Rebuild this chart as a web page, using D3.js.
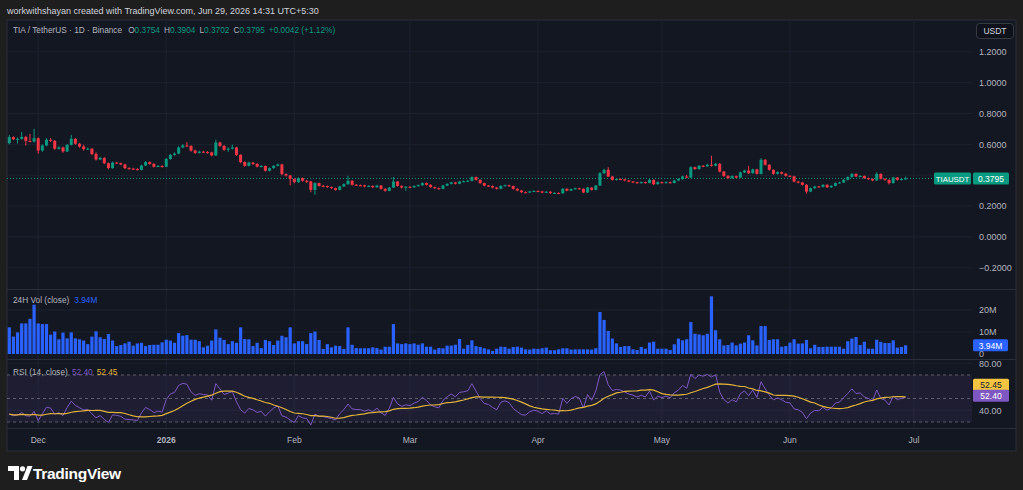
<!DOCTYPE html>
<meta charset="utf-8" />
<script src="https://d3js.org/d3.v7.min.js"></script>
<style>
	body { margin: 0; background: #1e1e1e; overflow: hidden; }
	text { font-family: "Liberation Sans", Arial, sans-serif; }
</style>
<div id="chart"></div>
<script>
	// daily candles, TIA/USDT, first day 2025-11-24
	const startDate = "2025-11-24";
	const firstOpen = 0.608;
	const closes = [0.647,0.633,0.636,0.648,0.622,0.618,0.640,0.560,0.593,0.630,
		0.623,0.571,0.580,0.554,0.597,0.636,0.604,0.586,0.569,0.572,
		0.537,0.502,0.512,0.478,0.446,0.482,0.478,0.470,0.446,0.443,
		0.440,0.435,0.463,0.485,0.473,0.455,0.460,0.455,0.505,0.532,
		0.540,0.580,0.593,0.590,0.560,0.545,0.553,0.550,0.548,0.528,
		0.612,0.590,0.565,0.572,0.580,0.532,0.485,0.461,0.482,0.473,
		0.456,0.460,0.429,0.446,0.461,0.470,0.407,0.398,0.376,0.355,
		0.381,0.364,0.360,0.305,0.349,0.331,0.330,0.323,0.316,0.305,
		0.327,0.342,0.364,0.338,0.335,0.334,0.327,0.331,0.322,0.333,
		0.312,0.299,0.320,0.359,0.331,0.320,0.325,0.322,0.330,0.335,
		0.349,0.338,0.323,0.316,0.312,0.333,0.344,0.353,0.345,0.359,
		0.361,0.364,0.388,0.370,0.349,0.333,0.330,0.320,0.312,0.331,
		0.335,0.330,0.312,0.301,0.290,0.288,0.295,0.298,0.295,0.288,
		0.293,0.284,0.285,0.283,0.312,0.300,0.310,0.315,0.312,0.288,
		0.320,0.305,0.333,0.413,0.435,0.392,0.370,0.375,0.373,0.366,
		0.359,0.355,0.349,0.355,0.350,0.370,0.342,0.355,0.350,0.355,
		0.350,0.366,0.375,0.392,0.385,0.452,0.440,0.461,0.458,0.468,
		0.462,0.474,0.424,0.396,0.381,0.394,0.385,0.418,0.430,0.413,
		0.438,0.409,0.500,0.468,0.435,0.409,0.420,0.410,0.396,0.393,
		0.359,0.353,0.338,0.294,0.316,0.327,0.325,0.338,0.322,0.331,
		0.349,0.353,0.370,0.388,0.409,0.392,0.395,0.381,0.375,0.366,
		0.409,0.377,0.370,0.349,0.385,0.370,0.3754,0.3795];
	const highs = [0.660,0.652,0.645,0.680,0.655,0.668,0.700,0.645,0.600,0.640,
		0.640,0.628,0.588,0.585,0.602,0.662,0.640,0.610,0.598,0.580,
		0.576,0.548,0.520,0.518,0.482,0.488,0.486,0.482,0.474,0.452,
		0.448,0.446,0.468,0.492,0.490,0.478,0.466,0.465,0.512,0.538,
		0.548,0.588,0.602,0.615,0.594,0.566,0.560,0.558,0.556,0.552,
		0.630,0.618,0.595,0.580,0.598,0.584,0.536,0.490,0.488,0.486,
		0.478,0.466,0.463,0.450,0.465,0.476,0.474,0.412,0.402,0.380,
		0.386,0.385,0.370,0.364,0.354,0.352,0.338,0.334,0.327,0.320,
		0.331,0.347,0.396,0.368,0.343,0.340,0.338,0.336,0.334,0.338,
		0.336,0.315,0.324,0.388,0.362,0.334,0.330,0.330,0.335,0.340,
		0.354,0.352,0.341,0.327,0.320,0.337,0.348,0.358,0.357,0.363,
		0.366,0.369,0.393,0.392,0.373,0.352,0.337,0.334,0.324,0.335,
		0.340,0.339,0.333,0.315,0.304,0.294,0.299,0.303,0.302,0.299,
		0.297,0.296,0.290,0.289,0.316,0.315,0.314,0.320,0.319,0.315,
		0.324,0.323,0.337,0.420,0.442,0.452,0.396,0.380,0.379,0.377,
		0.370,0.363,0.358,0.360,0.359,0.376,0.373,0.360,0.359,0.360,
		0.359,0.370,0.380,0.397,0.402,0.458,0.456,0.466,0.466,0.474,
		0.526,0.480,0.478,0.428,0.400,0.399,0.398,0.423,0.436,0.461,
		0.443,0.442,0.510,0.504,0.472,0.438,0.425,0.424,0.414,0.400,
		0.397,0.363,0.357,0.342,0.320,0.332,0.332,0.342,0.341,0.335,
		0.353,0.358,0.375,0.393,0.414,0.412,0.400,0.399,0.385,0.379,
		0.418,0.412,0.381,0.373,0.390,0.388,0.380,0.3904];
	const lows = [0.600,0.628,0.605,0.630,0.593,0.612,0.612,0.540,0.552,0.588,
		0.615,0.565,0.566,0.545,0.550,0.592,0.598,0.578,0.560,0.563,
		0.530,0.495,0.498,0.472,0.438,0.442,0.472,0.465,0.440,0.436,
		0.433,0.430,0.432,0.460,0.468,0.450,0.452,0.448,0.452,0.500,
		0.528,0.536,0.575,0.582,0.552,0.538,0.540,0.544,0.540,0.522,
		0.525,0.584,0.558,0.552,0.566,0.526,0.478,0.455,0.457,0.466,
		0.450,0.450,0.424,0.425,0.442,0.457,0.400,0.392,0.335,0.348,
		0.350,0.358,0.350,0.290,0.273,0.326,0.325,0.318,0.311,0.300,
		0.302,0.324,0.338,0.333,0.330,0.329,0.322,0.323,0.317,0.319,
		0.307,0.293,0.296,0.317,0.326,0.314,0.299,0.316,0.318,0.326,
		0.332,0.333,0.318,0.311,0.306,0.309,0.330,0.340,0.340,0.342,
		0.354,0.356,0.360,0.365,0.344,0.328,0.325,0.315,0.307,0.309,
		0.327,0.325,0.307,0.296,0.285,0.283,0.285,0.291,0.290,0.283,
		0.284,0.279,0.280,0.277,0.280,0.296,0.297,0.306,0.307,0.284,
		0.285,0.300,0.302,0.330,0.408,0.388,0.365,0.366,0.368,0.361,
		0.354,0.350,0.344,0.345,0.345,0.347,0.337,0.339,0.345,0.346,
		0.345,0.347,0.362,0.371,0.380,0.382,0.435,0.436,0.452,0.454,
		0.456,0.458,0.418,0.390,0.375,0.377,0.380,0.382,0.414,0.408,
		0.410,0.404,0.405,0.462,0.430,0.403,0.405,0.405,0.391,0.388,
		0.354,0.347,0.333,0.280,0.290,0.312,0.320,0.321,0.317,0.318,
		0.328,0.345,0.350,0.366,0.384,0.388,0.387,0.376,0.370,0.361,
		0.363,0.372,0.364,0.340,0.346,0.365,0.366,0.3702];
	// 24h volume, millions
	const volumes = [12.1,7.9,9.8,13.9,13.9,16.0,22.4,13.9,13.6,13.6,
		8.8,10.2,6.7,9.7,7.1,9.8,7.1,6.7,6.1,4.5,
		7.9,10.3,7.6,6.8,9.1,6.1,3.6,4.1,4.8,5.6,
		3.8,4.8,5.1,3.6,4.1,4.2,4.2,5.3,6.5,6.1,
		5.1,9.5,8.3,8.6,6.5,6.5,5.8,3.0,3.8,6.1,
		11.2,7.4,6.4,4.5,5.8,5.1,12.1,6.8,6.7,3.6,
		5.1,2.7,6.4,5.8,4.1,6.1,8.3,7.6,12.1,4.8,
		5.8,5.8,4.5,9.5,10.2,6.4,2.3,4.5,3.0,3.8,
		3.6,2.3,12.1,4.2,2.7,2.6,2.6,2.6,3.0,2.7,
		2.0,3.3,3.3,13.6,4.8,4.5,4.8,4.5,4.8,4.2,
		4.8,3.3,3.3,2.0,2.7,2.6,3.8,3.8,4.2,6.8,
		2.4,4.1,6.2,3.6,3.2,2.6,2.1,1.4,2.4,3.3,
		3.2,2.4,3.2,3.3,2.9,2.1,2.0,2.4,2.3,2.6,
		2.9,1.7,1.7,2.1,2.6,2.6,2.0,2.1,2.1,2.1,
		2.1,2.0,2.6,19.1,15.5,10.5,7.0,4.8,3.2,3.6,
		3.6,2.1,1.8,3.2,2.4,5.2,5.6,2.4,2.4,2.4,
		1.8,4.4,7.0,6.2,6.7,14.5,9.2,8.9,8.5,9.2,
		26.2,10.8,6.7,3.9,4.1,5.2,3.9,4.7,5.2,8.5,
		6.2,3.9,12.7,12.7,6.4,6.7,6.7,3.3,3.6,5.2,
		6.7,4.7,4.8,6.4,2.6,4.2,3.2,3.2,3.3,3.3,
		3.3,3.3,2.4,5.8,7.0,7.7,4.1,5.6,2.4,2.4,
		6.5,5.5,5.0,5.0,6.2,2.9,3.2,3.94];

	const priceTicks = [-0.2, 0, 0.2, 0.4, 0.6, 0.8, 1.0, 1.2];
	const volTicks = [0, 10, 20];
	const rsiTicks = [40, 80];
	const rsiLevels = [30, 50, 70];
	// Wilder averages carried in from the days before the window
	const rsiSeedGain = 0.011, rsiSeedLoss = 0.019;
	const lastPrice = 0.3795, lastVolume = 3.94, rsiLast = 52.40, rsiMaLast = 52.45;
	const ohlcLabels = [["O", "0.3754"], ["H", "0.3904"], ["L", "0.3702"], ["C", "0.3795"]];
	const changeLabel = "+0.0042 (+1.12%)";

	const W = 1023, H = 490;
	const left = 7, plotRight = 972, axisX = 979;
	const up = "#089981", down = "#f23645", gridColor = "#1d2230", axisText = "#b2b5be";
	const maColor = "#e2b53a";

	const svg = d3.select("#chart").append("svg").attr("width", W).attr("height", H);
	svg.append("rect").attr("width", W).attr("height", H).attr("fill", "#1e1e1e");
	svg.append("rect").attr("x", left).attr("y", 20).attr("width", 1009).attr("height", 431)
		.attr("fill", "#131722").attr("stroke", "#2a2e39");

	const t0 = d3.utcParse("%Y-%m-%d")(startDate);
	const dates = closes.map((c, i) => d3.utcDay.offset(t0, i));
	const opens = closes.map((c, i) => (i === 0 ? firstOpen : closes[i - 1]));
	const n = closes.length;

	const x = d3.scaleUtc().domain([dates[0], dates[n - 1]]).range([9.3, 905.6]);
	const y = d3.scaleLinear().domain([-0.2, 1.2]).range([267.8, 51.8]);
	const vy = d3.scaleLinear().domain([0, 20]).range([354, 310]);
	const ry = d3.scaleLinear().domain([30, 70]).range([422, 375]);

	// RSI(14) + 14-day SMA of it
	const rsi = [];
	let avgG = rsiSeedGain, avgL = rsiSeedLoss;
	closes.forEach((c, i) => {
		if (i > 0) {
			const ch = c - closes[i - 1];
			avgG = (avgG * 13 + Math.max(ch, 0)) / 14;
			avgL = (avgL * 13 + Math.max(-ch, 0)) / 14;
		}
		rsi.push(100 - 100 / (1 + avgG / avgL));
	});
	const rsiMA = rsi.map((v, i) => d3.mean(rsi.slice(Math.max(0, i - 13), i + 1)));

	// month grid
	const months = d3.utcMonth.range(d3.utcMonth.ceil(dates[0]), d3.utcDay.offset(dates[n - 1], 3));
	svg.append("g").selectAll("line").data(months).join("line")
		.attr("x1", d => x(d)).attr("x2", d => x(d))
		.attr("y1", 20).attr("y2", 428)
		.attr("stroke", gridColor);

	const hGrid = (vals, scale) =>
		svg.append("g").selectAll("line").data(vals).join("line")
			.attr("x1", left).attr("x2", plotRight)
			.attr("y1", d => scale(d)).attr("y2", d => scale(d))
			.attr("stroke", gridColor);
	hGrid(priceTicks, y);
	hGrid(volTicks.filter(d => d > 0), vy);
	hGrid(rsiTicks, ry);

	// pane separators
	svg.append("g").selectAll("line").data([289.5, 359.5, 428.5]).join("line")
		.attr("x1", left).attr("x2", 1016).attr("y1", d => d).attr("y2", d => d)
		.attr("stroke", "#2a2e39");

	// current price line
	svg.append("line").attr("x1", left).attr("x2", plotRight)
		.attr("y1", y(lastPrice)).attr("y2", y(lastPrice))
		.attr("stroke", up).attr("stroke-dasharray", "1,2");

	// candles
	const idx = d3.range(n);
	const col = i => (closes[i] >= opens[i] ? up : down);
	svg.append("g").selectAll("line").data(idx).join("line")
		.attr("x1", i => x(dates[i])).attr("x2", i => x(dates[i]))
		.attr("y1", i => y(highs[i])).attr("y2", i => y(lows[i]))
		.attr("stroke", col).attr("stroke-width", 1);
	svg.append("g").selectAll("rect").data(idx).join("rect")
		.attr("x", i => x(dates[i]) - 1.5)
		.attr("width", 3)
		.attr("y", i => y(Math.max(opens[i], closes[i])))
		.attr("height", i => Math.max(1, Math.abs(y(opens[i]) - y(closes[i]))))
		.attr("fill", col);

	// volume
	svg.append("g").selectAll("rect").data(idx).join("rect")
		.attr("x", i => x(dates[i]) - 1.6)
		.attr("width", 3.2)
		.attr("y", i => vy(volumes[i]))
		.attr("height", i => vy(0) - vy(volumes[i]))
		.attr("fill", "#2962ff");

	// RSI pane
	svg.append("rect").attr("x", left).attr("width", plotRight - left)
		.attr("y", ry(70)).attr("height", ry(30) - ry(70))
		.attr("fill", "rgba(126,87,194,0.1)");
	svg.append("g").selectAll("line").data(rsiLevels).join("line")
		.attr("x1", left).attr("x2", plotRight)
		.attr("y1", d => ry(d)).attr("y2", d => ry(d))
		.attr("stroke", "rgba(120,123,134,0.7)").attr("stroke-dasharray", "3,3");
	const rsiLine = d3.line().x((d, i) => x(dates[i])).y(d => ry(d));
	svg.append("path").datum(rsi).attr("d", rsiLine)
		.attr("fill", "none").attr("stroke", "#7e57c2").attr("stroke-width", 1);
	svg.append("path").datum(rsiMA).attr("d", rsiLine)
		.attr("fill", "none").attr("stroke", maColor).attr("stroke-width", 1.2);

	// right axes (the tick hidden behind the last-price tag is not drawn)
	const styleAxis = g => {
		g.select(".domain").remove();
		g.selectAll("text").attr("fill", axisText).style("font-size", "9px");
	};
	const visiblePriceTicks = priceTicks.filter(d => Math.abs(y(d) - y(lastPrice)) > 8);
	svg.append("g").attr("transform", `translate(${axisX},0)`)
		.call(d3.axisRight(y).tickValues(visiblePriceTicks).tickFormat(d3.format(".4f")).tickSize(0).tickPadding(0))
		.call(styleAxis);
	svg.append("g").attr("transform", `translate(${axisX},0)`)
		.call(d3.axisRight(vy).tickValues(volTicks).tickFormat(d => (d === 0 ? "0" : d + "M")).tickSize(0).tickPadding(0))
		.call(styleAxis);
	svg.append("g").attr("transform", `translate(${axisX},0)`)
		.call(d3.axisRight(ry).tickValues(rsiTicks).tickFormat(d3.format(".2f")).tickSize(0).tickPadding(0))
		.call(styleAxis);

	const tag = (x0, w, cy, fill, label, color, size) => {
		svg.append("rect").attr("x", x0).attr("y", cy - 6).attr("width", w).attr("height", 12)
			.attr("rx", 1.5).attr("fill", fill);
		svg.append("text").attr("x", x0 + w / 2).attr("y", cy + 3.2)
			.attr("text-anchor", "middle").attr("fill", color)
			.style("font-size", (size || 8.5) + "px").text(label);
	};
	tag(934, 37, y(lastPrice), up, "TIAUSDT", "#ffffff", 7.8);
	tag(973, 36, y(lastPrice), up, d3.format(".4f")(lastPrice), "#ffffff");
	tag(973, 35, vy(lastVolume), "#2962ff", lastVolume.toFixed(2) + "M", "#ffffff");
	tag(973, 36, ry(rsiLast) - 11, "#f5c542", rsiMaLast.toFixed(2), "#131722");
	tag(973, 36, ry(rsiLast), "#7e57c2", rsiLast.toFixed(2), "#ffffff");

	// currency button
	svg.append("rect").attr("x", 976.5).attr("y", 23.5).attr("width", 37).attr("height", 15)
		.attr("rx", 3).attr("fill", "#0f121a").attr("stroke", "#363a45");
	svg.append("text").attr("x", 995).attr("y", 34).attr("text-anchor", "middle")
		.attr("fill", "#d1d4dc").style("font-size", "8.5px").text("USDT");

	// time axis
	svg.append("g").selectAll("text").data(months).join("text")
		.attr("x", d => x(d)).attr("y", 443).attr("text-anchor", "middle")
		.attr("fill", axisText).style("font-size", "8.5px")
		.style("font-weight", d => (d.getUTCMonth() === 0 ? "bold" : "normal"))
		.text(d => (d.getUTCMonth() === 0 ? d3.utcFormat("%Y")(d) : d3.utcFormat("%b")(d)));

	// titles
	svg.append("text").attr("x", 7).attr("y", 14).attr("fill", "#d1d4dc")
		.style("font-size", "9px").text("workwithshayan created with TradingView.com, Jun 29, 2026 14:31 UTC+5:30");

	const head = svg.append("text").attr("x", 13).attr("y", 33).style("font-size", "8.3px").attr("fill", "#b2b5be");
	head.append("tspan").text("TIA / TetherUS · 1D · Binance");
	ohlcLabels.forEach(([k, v], i) => {
		head.append("tspan").attr("dx", i === 0 ? 6 : 4).text(k);
		head.append("tspan").attr("fill", up).text(v);
	});
	head.append("tspan").attr("dx", 4).attr("fill", up).text(changeLabel);

	const volHead = svg.append("text").attr("x", 13).attr("y", 303).style("font-size", "8.3px").attr("fill", "#b2b5be");
	volHead.append("tspan").text("24H Vol (close)");
	volHead.append("tspan").attr("dx", 5).attr("fill", "#2962ff").text(lastVolume.toFixed(2) + "M");

	const rsiHead = svg.append("text").attr("x", 13).attr("y", 375).style("font-size", "8.3px").attr("fill", "#b2b5be");
	rsiHead.append("tspan").text("RSI (14, close)");
	rsiHead.append("tspan").attr("dx", 4).attr("fill", "#7e57c2").text(rsiLast.toFixed(2));
	rsiHead.append("tspan").attr("dx", 4).attr("fill", maColor).text(rsiMaLast.toFixed(2));

	// TradingView mark
	const logo = svg.append("g").attr("fill", "#ffffff");
	logo.append("path").attr("d", "M8,466 H19 V480 H14 V471 H8 Z");
	logo.append("circle").attr("cx", 22.5).attr("cy", 468.8).attr("r", 2.6);
	logo.append("path").attr("d", "M22,480 L27.5,466 H32.5 L27,480 Z");
	svg.append("text").attr("x", 33).attr("y", 479).attr("fill", "#ffffff")
		.style("font-size", "15.5px").style("font-weight", "bold").style("letter-spacing", "-0.3px")
		.text("TradingView");
</script>
